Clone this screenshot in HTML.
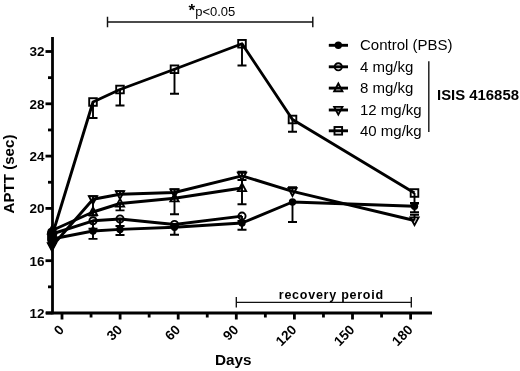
<!DOCTYPE html>
<html><head><meta charset="utf-8"><title>APTT chart</title>
<style>html,body{margin:0;padding:0;background:#fff}svg{display:block;filter:blur(0.35px)}</style></head>
<body>
<svg width="520" height="371" viewBox="0 0 520 371" font-family="'Liberation Sans', Arial, sans-serif" fill="#000">
<rect width="520" height="371" fill="#fff"/>
<g stroke="#000" stroke-width="2.8" fill="none" stroke-linecap="butt">
<path d="M52.5 37 V314.2"/>
<path d="M46 313 H432"/>
<path d="M45.5 313.00 H52.5"/>
<path d="M48 286.85 H52.5"/>
<path d="M45.5 260.70 H52.5"/>
<path d="M48 234.55 H52.5"/>
<path d="M45.5 208.40 H52.5"/>
<path d="M48 182.25 H52.5"/>
<path d="M45.5 156.10 H52.5"/>
<path d="M48 129.95 H52.5"/>
<path d="M45.5 103.80 H52.5"/>
<path d="M48 77.65 H52.5"/>
<path d="M45.5 51.50 H52.5"/>
<path d="M62.00 313 V319.5"/>
<path d="M91.05 313 V317.5"/>
<path d="M120.10 313 V319.5"/>
<path d="M149.15 313 V317.5"/>
<path d="M178.20 313 V319.5"/>
<path d="M207.25 313 V317.5"/>
<path d="M236.30 313 V319.5"/>
<path d="M265.35 313 V317.5"/>
<path d="M294.40 313 V319.5"/>
<path d="M323.45 313 V317.5"/>
<path d="M352.50 313 V319.5"/>
<path d="M381.56 313 V317.5"/>
<path d="M410.61 313 V319.5"/>
</g>
<g font-weight="bold" font-size="13.5" text-anchor="end">
<text x="44.5" y="317.80">12</text>
<text x="44.5" y="265.50">16</text>
<text x="44.5" y="213.20">20</text>
<text x="44.5" y="160.90">24</text>
<text x="44.5" y="108.60">28</text>
<text x="44.5" y="56.30">32</text>
</g>
<g font-weight="bold" font-size="13.5" text-anchor="end">
<text transform="translate(64.90 330.70) rotate(-45)">0</text>
<text transform="translate(123.00 330.70) rotate(-45)">30</text>
<text transform="translate(181.10 330.70) rotate(-45)">60</text>
<text transform="translate(239.20 330.70) rotate(-45)">90</text>
<text transform="translate(297.30 330.70) rotate(-45)">120</text>
<text transform="translate(355.40 330.70) rotate(-45)">150</text>
<text transform="translate(413.51 330.70) rotate(-45)">180</text>
</g>
<text x="233.3" y="364.8" font-weight="bold" font-size="15.3" text-anchor="middle">Days</text>
<text transform="translate(13.7 174) rotate(-90)" font-weight="bold" font-size="15.1" text-anchor="middle">APTT (sec)</text>
<path d="M52 239 L93 231 L120 229.4 L174.5 227.3 L242 223 L292.5 202 L414.5 206.2" fill="none" stroke="#000" stroke-width="2.9" stroke-linejoin="round"/>
<path d="M52 234 L93 220.8 L120 219 L174.5 224.5 L242 216.1" fill="none" stroke="#000" stroke-width="2.9" stroke-linejoin="round"/>
<path d="M52 230.5 L93 212 L120 203.5 L174.5 198.3 L242 188" fill="none" stroke="#000" stroke-width="2.9" stroke-linejoin="round"/>
<path d="M52 246.3 L93 199.3 L120 194.3 L174.5 192.5 L242 175.8 L292.5 191.3 L414.5 220.5" fill="none" stroke="#000" stroke-width="2.9" stroke-linejoin="round"/>
<path d="M52 236 L93 102 L120 89.5 L174.5 69.25 L242 43.75 L292.5 119.5 L414.5 193" fill="none" stroke="#000" stroke-width="2.9" stroke-linejoin="round"/>
<circle cx="52" cy="239" r="3.7" fill="#000"/>
<path d="M93 231 V238.9 M88.5 238.9 H97.5" stroke="#000" stroke-width="1.9" fill="none"/>
<circle cx="93" cy="231" r="3.7" fill="#000"/>
<path d="M120 229.4 V235 M115.5 235 H124.5" stroke="#000" stroke-width="1.9" fill="none"/>
<circle cx="120" cy="229.4" r="3.7" fill="#000"/>
<path d="M174.5 227.3 V234.8 M170.0 234.8 H179.0" stroke="#000" stroke-width="1.9" fill="none"/>
<circle cx="174.5" cy="227.3" r="3.7" fill="#000"/>
<path d="M242 223 V229.8 M237.5 229.8 H246.5" stroke="#000" stroke-width="1.9" fill="none"/>
<circle cx="242" cy="223" r="3.7" fill="#000"/>
<path d="M292.5 202 V222 M288.0 222 H297.0" stroke="#000" stroke-width="1.9" fill="none"/>
<circle cx="292.5" cy="202" r="3.7" fill="#000"/>
<path d="M414.5 206.2 V212.2 M410.0 212.2 H419.0" stroke="#000" stroke-width="1.9" fill="none"/>
<path d="M414.5 206.2 V203.6 M410.0 203.6 H419.0" stroke="#000" stroke-width="1.9" fill="none"/>
<circle cx="414.5" cy="206.2" r="3.7" fill="#000"/>
<circle cx="52" cy="234" r="3.6" fill="none" stroke="#000" stroke-width="1.9"/>
<path d="M93 220.8 V228.7 M88.5 228.7 H97.5" stroke="#000" stroke-width="1.9" fill="none"/>
<circle cx="93" cy="220.8" r="3.6" fill="none" stroke="#000" stroke-width="1.9"/>
<path d="M120 219 V226 M115.5 226 H124.5" stroke="#000" stroke-width="1.9" fill="none"/>
<circle cx="120" cy="219" r="3.6" fill="none" stroke="#000" stroke-width="1.9"/>
<circle cx="174.5" cy="224.5" r="3.6" fill="none" stroke="#000" stroke-width="1.9"/>
<path d="M242 216.1 V221 M237.5 221 H246.5" stroke="#000" stroke-width="1.9" fill="none"/>
<circle cx="242" cy="216.1" r="3.6" fill="none" stroke="#000" stroke-width="1.9"/>
<path d="M52 225.9 L56.1 233.6 H47.9 Z" fill="none" stroke="#000" stroke-width="1.9"/>
<path d="M93 212 V215.5 M88.5 215.5 H97.5" stroke="#000" stroke-width="1.9" fill="none"/>
<path d="M93 207.4 L97.1 215.1 H88.9 Z" fill="none" stroke="#000" stroke-width="1.9"/>
<path d="M120 203.5 V210.4 M115.5 210.4 H124.5" stroke="#000" stroke-width="1.9" fill="none"/>
<path d="M120 198.9 L124.1 206.6 H115.9 Z" fill="none" stroke="#000" stroke-width="1.9"/>
<path d="M174.5 198.3 V214.2 M170.0 214.2 H179.0" stroke="#000" stroke-width="1.9" fill="none"/>
<path d="M174.5 193.70000000000002 L178.6 201.4 H170.4 Z" fill="none" stroke="#000" stroke-width="1.9"/>
<path d="M242 188 V204.2 M237.5 204.2 H246.5" stroke="#000" stroke-width="1.9" fill="none"/>
<path d="M242 188 V180 M237.5 180 H246.5" stroke="#000" stroke-width="1.9" fill="none"/>
<path d="M242 183.4 L246.1 191.1 H237.9 Z" fill="none" stroke="#000" stroke-width="1.9"/>
<path d="M52 250.9 L56.1 243.20000000000002 H47.9 Z" fill="none" stroke="#000" stroke-width="1.9"/>
<path d="M93 199.3 V196.1 M88.5 196.1 H97.5" stroke="#000" stroke-width="1.9" fill="none"/>
<path d="M93 203.9 L97.1 196.20000000000002 H88.9 Z" fill="none" stroke="#000" stroke-width="1.9"/>
<path d="M120 194.3 V191.1 M115.5 191.1 H124.5" stroke="#000" stroke-width="1.9" fill="none"/>
<path d="M120 198.9 L124.1 191.20000000000002 H115.9 Z" fill="none" stroke="#000" stroke-width="1.9"/>
<path d="M174.5 192.5 V189.3 M170.0 189.3 H179.0" stroke="#000" stroke-width="1.9" fill="none"/>
<path d="M174.5 197.1 L178.6 189.4 H170.4 Z" fill="none" stroke="#000" stroke-width="1.9"/>
<path d="M242 175.8 V171.6 M237.5 171.6 H246.5" stroke="#000" stroke-width="1.9" fill="none"/>
<path d="M242 180.4 L246.1 172.70000000000002 H237.9 Z" fill="none" stroke="#000" stroke-width="1.9"/>
<path d="M292.5 191.3 V187.2 M288.0 187.2 H297.0" stroke="#000" stroke-width="1.9" fill="none"/>
<path d="M292.5 195.9 L296.6 188.20000000000002 H288.4 Z" fill="none" stroke="#000" stroke-width="1.9"/>
<path d="M414.5 220.5 V214.8 M410.0 214.8 H419.0" stroke="#000" stroke-width="1.9" fill="none"/>
<path d="M414.5 225.1 L418.6 217.4 H410.4 Z" fill="none" stroke="#000" stroke-width="1.9"/>
<rect x="48.2" y="232.2" width="7.6" height="7.6" fill="none" stroke="#000" stroke-width="1.9"/>
<path d="M93 102 V118 M88.5 118 H97.5" stroke="#000" stroke-width="1.9" fill="none"/>
<rect x="89.2" y="98.2" width="7.6" height="7.6" fill="none" stroke="#000" stroke-width="1.9"/>
<path d="M120 89.5 V105.5 M115.5 105.5 H124.5" stroke="#000" stroke-width="1.9" fill="none"/>
<rect x="116.2" y="85.7" width="7.6" height="7.6" fill="none" stroke="#000" stroke-width="1.9"/>
<path d="M174.5 69.25 V93.75 M170.0 93.75 H179.0" stroke="#000" stroke-width="1.9" fill="none"/>
<rect x="170.7" y="65.45" width="7.6" height="7.6" fill="none" stroke="#000" stroke-width="1.9"/>
<path d="M242 43.75 V65.5 M237.5 65.5 H246.5" stroke="#000" stroke-width="1.9" fill="none"/>
<rect x="238.2" y="39.95" width="7.6" height="7.6" fill="none" stroke="#000" stroke-width="1.9"/>
<path d="M292.5 119.5 V131.75 M288.0 131.75 H297.0" stroke="#000" stroke-width="1.9" fill="none"/>
<rect x="288.7" y="115.7" width="7.6" height="7.6" fill="none" stroke="#000" stroke-width="1.9"/>
<path d="M414.5 193 V203 M410.0 203 H419.0" stroke="#000" stroke-width="1.9" fill="none"/>
<rect x="410.7" y="189.2" width="7.6" height="7.6" fill="none" stroke="#000" stroke-width="1.9"/>
<path d="M93 199 V212" stroke="#000" stroke-width="1.9"/>
<rect x="47.4" y="228" width="9.4" height="16.5" rx="3.5" fill="#000"/>
<path d="M47.6 243.5 H56.4 L52 251.6 Z" fill="#000"/>
<path d="M107.5 16.8 V27.2 M312.8 16.8 V27.2 M107.5 22 H312.8" stroke="#111" stroke-width="1.45" fill="none"/>
<text x="188.4" y="15.6" font-weight="bold" font-size="17">*</text>
<text x="195.2" y="15.6" font-size="13">p&lt;0.05</text>
<path d="M236.3 297 V307.6 M411.3 297 V307.6 M236.3 302.4 H411.3" stroke="#111" stroke-width="1.35" fill="none"/>
<text x="278.8" y="298.5" font-weight="bold" font-size="12.5" letter-spacing="0.75">recovery peroid</text>
<path d="M328.8 45.3 H348" stroke="#000" stroke-width="2.9"/>
<circle cx="338.3" cy="45.3" r="3.7" fill="#000"/>
<text x="360" y="50.3" font-size="15">Control (PBS)</text>
<path d="M328.8 66.8 H348" stroke="#000" stroke-width="2.9"/>
<circle cx="338.3" cy="66.8" r="3.6" fill="none" stroke="#000" stroke-width="1.9"/>
<text x="360" y="71.8" font-size="15">4 mg/kg</text>
<path d="M328.8 88.1 H348" stroke="#000" stroke-width="2.9"/>
<path d="M338.3 83.5 L342.40000000000003 91.19999999999999 H334.2 Z" fill="none" stroke="#000" stroke-width="1.9"/>
<text x="360" y="93.1" font-size="15">8 mg/kg</text>
<path d="M328.8 110.0 H348" stroke="#000" stroke-width="2.9"/>
<path d="M338.3 114.6 L342.40000000000003 106.9 H334.2 Z" fill="none" stroke="#000" stroke-width="1.9"/>
<text x="360" y="115.0" font-size="15">12 mg/kg</text>
<path d="M328.8 130.8 H348" stroke="#000" stroke-width="2.9"/>
<rect x="334.5" y="127.00000000000001" width="7.6" height="7.6" fill="none" stroke="#000" stroke-width="1.9"/>
<text x="360" y="135.8" font-size="15">40 mg/kg</text>
<path d="M428.8 61.2 V132" stroke="#222" stroke-width="1.5"/>
<text x="437" y="99.6" font-weight="bold" font-size="14.9">ISIS 416858</text>
</svg>
</body></html>
